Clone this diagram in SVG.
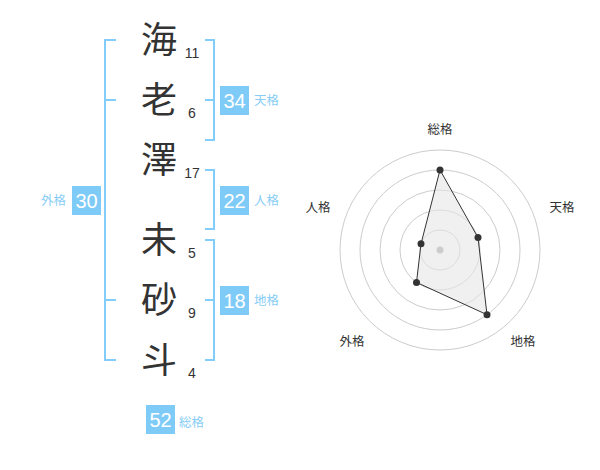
<svg xmlns="http://www.w3.org/2000/svg" width="600" height="470" viewBox="0 0 600 470">
<style>
.ch{font-family:"Noto Sans CJK JP","Noto Sans CJK SC",sans-serif;font-size:36px;fill:#333;text-anchor:middle}
.num{font-family:"Liberation Sans",Arial,sans-serif;font-size:14px;fill:#333;text-anchor:middle}
.br{fill:none;stroke:#82cdfb;stroke-width:2}
.box{fill:#7fcbf8}
.bn{font-family:"Liberation Sans",Arial,sans-serif;font-size:20px;fill:#fff;text-anchor:middle}
.lb{font-family:"Noto Sans CJK JP","Noto Sans CJK SC",sans-serif;font-size:12.5px;fill:#88cdf6}
.ring{fill:none;stroke:#ccc;stroke-width:1}
.rl{font-family:"Noto Sans CJK JP","Noto Sans CJK SC",sans-serif;font-size:12.5px;fill:#333;text-anchor:middle}
</style>
<rect width="600" height="470" fill="#fff"/>
<g id="names">
<g id="c1"><text class="ch" x="159" y="53">海</text><text class="num" x="192" y="58">11</text></g>
<g id="c2"><text class="ch" x="159" y="113">老</text><text class="num" x="192" y="118">6</text></g>
<g id="c3"><text class="ch" x="159" y="173">澤</text><text class="num" x="192" y="178">17</text></g>
<g id="c4"><text class="ch" x="159" y="253">未</text><text class="num" x="192" y="258">5</text></g>
<g id="c5"><text class="ch" x="159" y="313">砂</text><text class="num" x="192" y="318">9</text></g>
<g id="c6"><text class="ch" x="159" y="373">斗</text><text class="num" x="192" y="378">4</text></g>
</g>
<g id="connectors">
<path class="br" d="M116 40H105V360H116M105 100H116M105 300H116"/>
<path class="br" d="M205 40H214V140H205M214 100H205"/>
<path class="br" d="M205 170H214V229H205"/>
<path class="br" d="M205 240H214V360H205M214 300H205"/>
</g>
<g id="tenkaku"><rect class="box" x="220" y="86" width="29" height="29"/><text class="bn" x="234.5" y="107.5">34</text><text class="lb" x="254" y="105">天格</text></g>
<g id="jinkaku"><rect class="box" x="220" y="186" width="29" height="29"/><text class="bn" x="234.5" y="207.5">22</text><text class="lb" x="254" y="205">人格</text></g>
<g id="chikaku"><rect class="box" x="220" y="286" width="29" height="29"/><text class="bn" x="234.5" y="307.5">18</text><text class="lb" x="254" y="305">地格</text></g>
<g id="gaikaku"><rect class="box" x="72" y="186" width="29" height="29"/><text class="bn" x="86.5" y="207.5">30</text><text class="lb" x="41" y="205">外格</text></g>
<g id="soukaku"><rect class="box" x="146" y="405" width="29" height="29"/><text class="bn" x="160.5" y="426.5">52</text><text class="lb" x="179" y="427">総格</text></g>
<g id="radar">
<circle class="ring" cx="440" cy="250" r="20"/>
<circle class="ring" cx="440" cy="250" r="40"/>
<circle class="ring" cx="440" cy="250" r="60"/>
<circle class="ring" cx="440" cy="250" r="80"/>
<circle class="ring" cx="440" cy="250" r="100"/>
<polygon points="440,170 478,237.6 487,314.7 416.5,282.4 421,243.8" fill="#e6e6e6" fill-opacity="0.6" stroke="#333" stroke-width="1"/>
<circle cx="440" cy="250" r="3.5" fill="#ccc"/>
<g fill="#333">
<circle cx="440" cy="170" r="3.5"/>
<circle cx="478" cy="237.6" r="3.5"/>
<circle cx="487" cy="314.7" r="3.5"/>
<circle cx="416.5" cy="282.4" r="3.5"/>
<circle cx="421" cy="243.8" r="3.5"/>
</g>
<text class="rl" x="440" y="134">総格</text>
<text class="rl" x="562" y="212">天格</text>
<text class="rl" x="318" y="212">人格</text>
<text class="rl" x="352" y="346">外格</text>
<text class="rl" x="523" y="346">地格</text>
</g>
</svg>
